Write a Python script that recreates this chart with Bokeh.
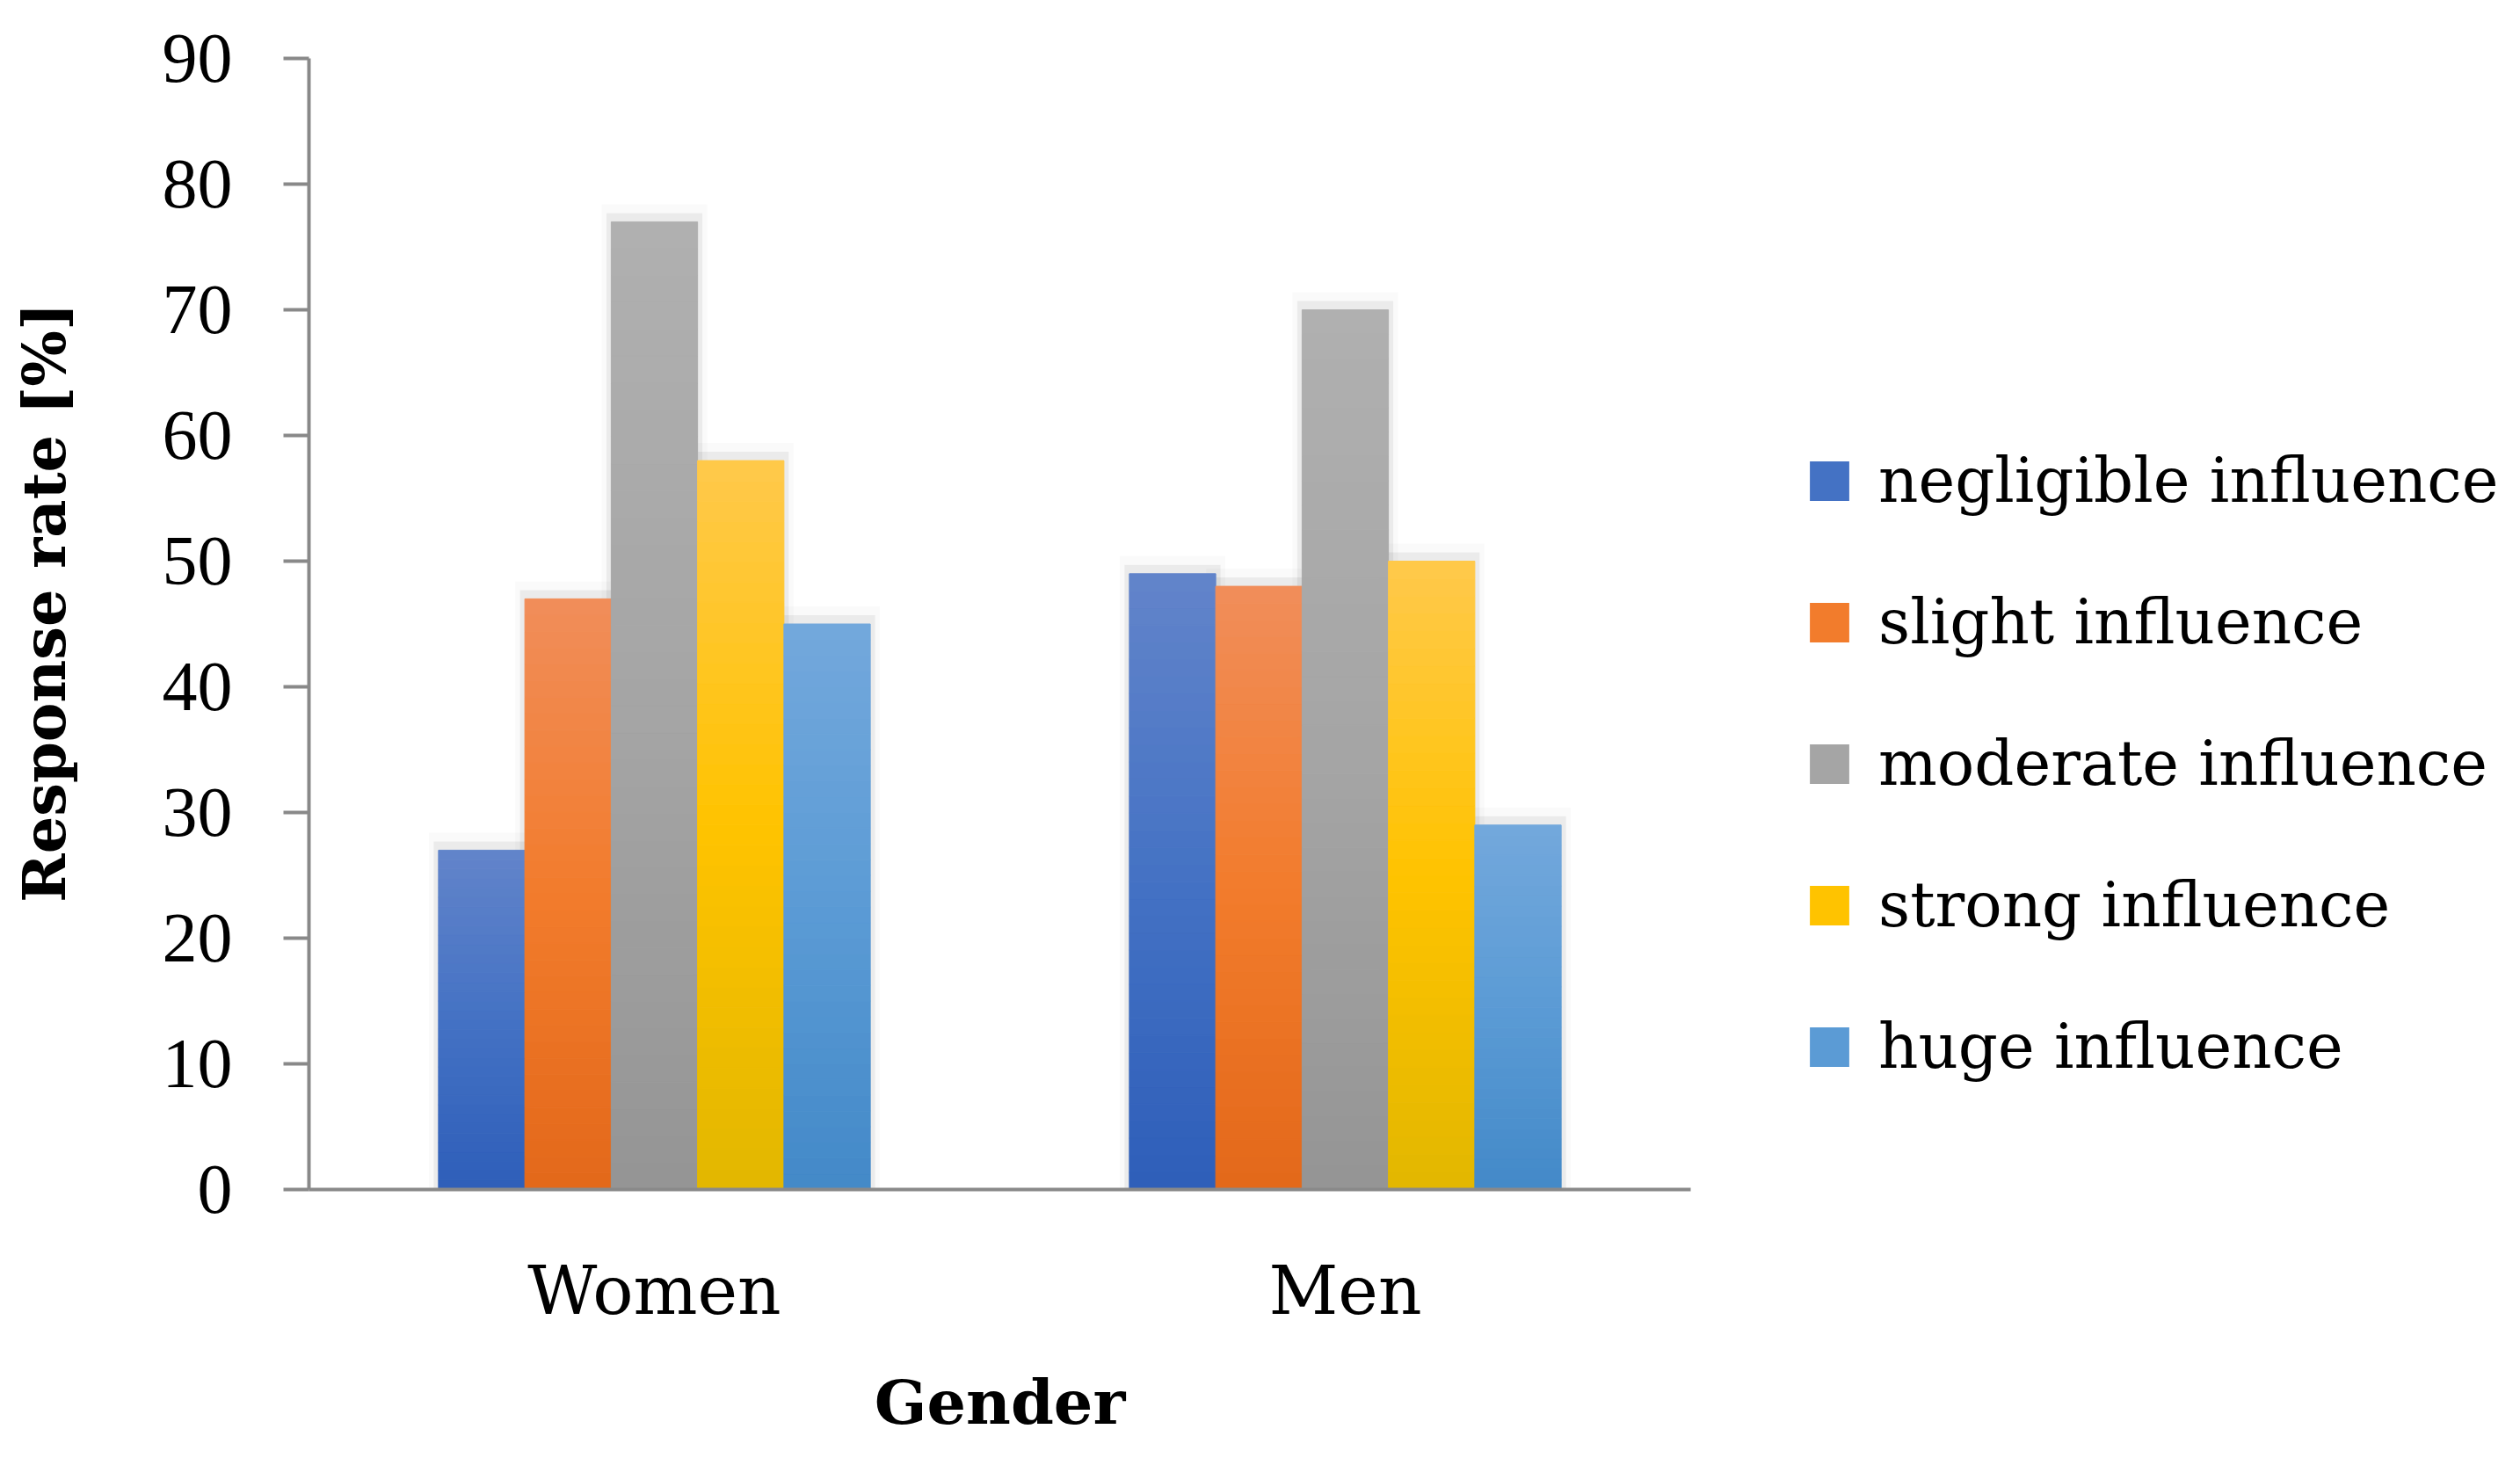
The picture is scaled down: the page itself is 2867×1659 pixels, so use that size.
from bokeh.plotting import figure
from bokeh.models import (Range1d, ColumnDataSource, Legend, LegendItem,
                          FixedTicker, LinearAxis)
from bokeh.transform import dodge
from bokeh.embed import file_html
from bokeh.resources import INLINE

# ---------------- data ----------------
categories = ["Women", "Men"]
series_names = ["negligible influence", "slight influence", "moderate influence",
                "strong influence", "huge influence"]
negligible = [27, 49]
slight = [47, 48]
moderate = [77, 70]
strong = [58, 50]
huge = [45, 29]
y_ticks = [0, 10, 20, 30, 40, 50, 60, 70, 80, 90]
x_title = "Gender"
y_title = "Response rate [%]"

values = [negligible, slight, moderate, strong, huge]

# gradient colours (top, middle, bottom) per series
col_top = ["#6284ca", "#f18d5a", "#b0b0b0", "#ffc94b", "#73a8dc"]
col_mid = ["#4472c4", "#f27c2c", "#a5a5a5", "#ffc300", "#5b9bd5"]
col_bot = ["#2e5eb9", "#e3681a", "#959595", "#e2b700", "#4389c8"]

AXIS_COL = "#898989"
SERIF = "DejaVu Serif"
TICK_FONT = "Liberation Serif"

# layout (pixels)
CANVAS_W, CANVAS_H = 2851, 1643
LEFT, TOP, BOTTOM = 351, 66, 290
PLOT_W = 1572                       # width of the drawn category axis
FRAME_W = CANVAS_W - LEFT           # frame continues under the legend
Y_TITLE_POS = 46.7                  # vertical placement of the y title


def hex2rgb(h):
    h = h.lstrip("#")
    return tuple(int(h[i:i + 2], 16) for i in (0, 2, 4))


def lerp(c1, c2, t):
    a, b = hex2rgb(c1), hex2rgb(c2)
    return "#%02x%02x%02x" % tuple(int(round(a[i] + (b[i] - a[i]) * t)) for i in range(3))


def grad(j, t):  # t = 0 at top, 1 at bottom
    if t <= 0.5:
        return lerp(col_top[j], col_mid[j], t / 0.5)
    return lerp(col_mid[j], col_bot[j], (t - 0.5) / 0.5)


ncat = len(categories)
cat_x = [i + 0.5 for i in range(ncat)]

p = figure(x_range=Range1d(0, ncat * FRAME_W / PLOT_W), y_range=Range1d(0, 90),
           width=CANVAS_W, height=CANVAS_H, output_backend="svg",
           toolbar_location=None, min_border_left=LEFT, min_border_right=0,
           min_border_top=TOP, min_border_bottom=BOTTOM)

BAR_W = 0.125
NSEG = 36

# shadows first
for j, vals in enumerate(values):
    off = (j - 2) * BAR_W
    src = ColumnDataSource(dict(x=cat_x,
                                top1=[v + 1.4 for v in vals],
                                top2=[v + 0.7 for v in vals]))
    p.vbar(x=dodge("x", off), width=BAR_W + 0.028, bottom=0,
           top="top1", source=src, fill_color="black", fill_alpha=0.02,
           line_color=None)
    p.vbar(x=dodge("x", off), width=BAR_W + 0.014, bottom=0,
           top="top2", source=src, fill_color="black", fill_alpha=0.06,
           line_color=None)

legend_items = []
for j, vals in enumerate(values):
    off = (j - 2) * BAR_W
    xs, bots, tops, cols = [], [], [], []
    for c, v in zip(cat_x, vals):
        for k in range(NSEG):
            xs.append(c)
            bots.append(v * k / NSEG)
            tops.append(v * (k + 1) / NSEG)
            cols.append(grad(j, 1 - (k + 0.5) / NSEG))
    src = ColumnDataSource(dict(x=xs, bottom=bots, top=tops, color=cols))
    p.vbar(x=dodge("x", off), width=BAR_W, bottom="bottom",
           top="top", source=src, fill_color="color", line_color="color",
           line_width=1)
    lsrc = ColumnDataSource(dict(x=cat_x, y=vals))
    r = p.scatter(x=dodge("x", off), y="y", source=lsrc,
                  marker="square", size=0, fill_color=col_mid[j], line_color=None)
    legend_items.append(LegendItem(label=series_names[j], renderers=[r]))

legend = Legend(items=legend_items, location=(1674, 102),
                glyph_width=112, glyph_height=120, label_height=120,
                label_standoff=0, spacing=41, padding=0, margin=0,
                border_line_alpha=0, background_fill_alpha=0,
                label_text_font=SERIF, label_text_font_size="70.5px",
                label_text_color="black")
p.add_layout(legend, "center")

# axes
p.xgrid.visible = False
p.ygrid.visible = False
p.outline_line_color = None

p.yaxis.ticker = FixedTicker(ticks=y_ticks)
p.yaxis.major_tick_out = 29
p.yaxis.major_tick_in = 0
p.yaxis.minor_tick_out = 0
p.yaxis.minor_tick_in = 0
p.yaxis.major_tick_line_width = 4
p.yaxis.major_tick_line_color = AXIS_COL
p.yaxis.axis_line_width = 4
p.yaxis.axis_line_color = AXIS_COL
p.yaxis.major_label_standoff = 58
p.yaxis.major_label_text_font = TICK_FONT
p.yaxis.major_label_text_font_size = "80px"
p.yaxis.major_label_text_color = "black"

# y title, carried by a second, line-less axis
ytitle_axis = LinearAxis(ticker=FixedTicker(ticks=[Y_TITLE_POS]),
                         major_label_overrides={Y_TITLE_POS: y_title},
                         major_label_orientation="vertical",
                         axis_line_color=None, major_tick_line_color=None,
                         minor_tick_line_color=None, major_label_standoff=85,
                         major_label_text_font=SERIF,
                         major_label_text_font_style="bold",
                         major_label_text_font_size="67px",
                         major_label_text_color="black")
p.add_layout(ytitle_axis, "left")

p.xaxis.bounds = (0, ncat)
p.xaxis.ticker = FixedTicker(ticks=cat_x)
p.xaxis.major_label_overrides = {x: c for x, c in zip(cat_x, categories)}
p.xaxis.major_tick_out = 0
p.xaxis.major_tick_in = 0
p.xaxis.minor_tick_out = 0
p.xaxis.minor_tick_in = 0
p.xaxis.axis_line_width = 4
p.xaxis.axis_line_color = AXIS_COL
p.xaxis.major_label_standoff = 70
p.xaxis.major_label_text_font = SERIF
p.xaxis.major_label_text_font_size = "77px"
p.xaxis.major_label_text_color = "black"

# x title, centred under the category axis
xtitle_axis = LinearAxis(ticker=FixedTicker(ticks=[ncat / 2]),
                         major_label_overrides={ncat / 2: x_title},
                         axis_line_color=None, major_tick_line_color=None,
                         minor_tick_line_color=None, major_label_standoff=32,
                         major_label_text_font=SERIF,
                         major_label_text_font_style="bold",
                         major_label_text_font_size="70px",
                         major_label_text_color="black")
p.add_layout(xtitle_axis, "below")

open("out.html", "w").write(file_html(p, INLINE))
